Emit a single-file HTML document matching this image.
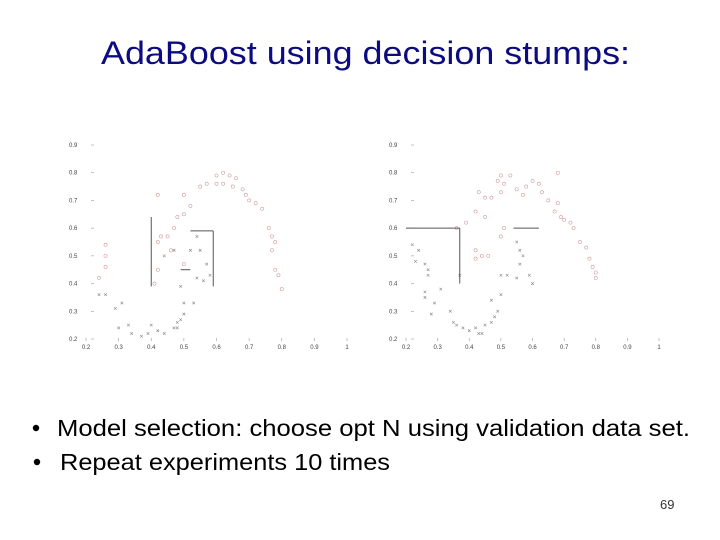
<!DOCTYPE html>
<html><head><meta charset="utf-8">
<style>
html,body{margin:0;padding:0;background:#fff;width:720px;height:540px;overflow:hidden}
svg{display:block}
</style></head>
<body>
<svg id="slide" width="720" height="540" viewBox="0 0 720 540" font-family="Liberation Sans, sans-serif">
<text x="101" y="64" font-size="32" textLength="529" lengthAdjust="spacingAndGlyphs" fill="#0c0c80">AdaBoost using decision stumps:</text>
<g id="plotL"></g>
<g id="plotR"></g>
<circle cx="36" cy="428" r="3.2" fill="#000"/>
<text x="57" y="436" font-size="23" textLength="633" lengthAdjust="spacingAndGlyphs" fill="#000">Model selection: choose opt N using validation data set.</text>
<circle cx="37" cy="462" r="3.2" fill="#000"/>
<text x="60" y="470" font-size="23" textLength="330" lengthAdjust="spacingAndGlyphs" fill="#000">Repeat experiments 10 times</text>
<text x="660" y="509" font-size="13" fill="#333">69</text>
</svg>
<script>
const xTicks=[0.2,0.3,0.4,0.5,0.6,0.7,0.8,0.9,1];
const yTicks=[0.2,0.3,0.4,0.5,0.6,0.7,0.8,0.9];
const leftCircles=[[0.42,0.72],[0.5,0.72],[0.52,0.68],[0.5,0.65],[0.48,0.64],[0.47,0.6],[0.45,0.57],[0.42,0.55],[0.43,0.57],[0.55,0.75],[0.57,0.76],[0.6,0.76],[0.62,0.76],[0.6,0.79],[0.62,0.8],[0.64,0.79],[0.66,0.78],[0.65,0.75],[0.68,0.74],[0.69,0.72],[0.7,0.7],[0.72,0.69],[0.74,0.67],[0.76,0.6],[0.77,0.57],[0.78,0.55],[0.77,0.52],[0.78,0.45],[0.79,0.43],[0.8,0.38],[0.42,0.45],[0.41,0.4],[0.26,0.54],[0.26,0.5],[0.26,0.46],[0.24,0.42],[0.46,0.52],[0.5,0.47]];
const leftCrosses=[[0.24,0.36],[0.26,0.36],[0.29,0.31],[0.31,0.33],[0.3,0.24],[0.33,0.25],[0.34,0.22],[0.37,0.21],[0.39,0.22],[0.4,0.25],[0.42,0.23],[0.44,0.22],[0.47,0.24],[0.48,0.26],[0.49,0.27],[0.5,0.29],[0.5,0.33],[0.48,0.24],[0.53,0.33],[0.47,0.52],[0.52,0.52],[0.55,0.52],[0.57,0.47],[0.56,0.41],[0.54,0.42],[0.49,0.39],[0.54,0.57],[0.44,0.5],[0.58,0.43]];
const leftLines=[[[0.4,0.39],[0.4,0.64]],[[0.52,0.59],[0.59,0.59]],[[0.59,0.59],[0.59,0.39]],[[0.49,0.45],[0.52,0.45]]];
const rightCircles=[[0.43,0.73],[0.45,0.71],[0.47,0.71],[0.49,0.77],[0.5,0.79],[0.51,0.76],[0.5,0.73],[0.53,0.79],[0.55,0.74],[0.57,0.72],[0.58,0.75],[0.6,0.77],[0.62,0.76],[0.63,0.73],[0.65,0.7],[0.68,0.69],[0.67,0.66],[0.69,0.64],[0.7,0.63],[0.72,0.62],[0.73,0.6],[0.75,0.55],[0.77,0.53],[0.78,0.49],[0.79,0.46],[0.8,0.44],[0.8,0.42],[0.68,0.8],[0.42,0.66],[0.45,0.64],[0.39,0.62],[0.36,0.6],[0.5,0.57],[0.42,0.52],[0.44,0.5],[0.42,0.49],[0.46,0.5],[0.51,0.6]];
const rightCrosses=[[0.22,0.54],[0.24,0.52],[0.23,0.48],[0.26,0.47],[0.27,0.45],[0.27,0.43],[0.26,0.37],[0.26,0.35],[0.29,0.33],[0.28,0.29],[0.31,0.38],[0.34,0.3],[0.35,0.26],[0.36,0.25],[0.38,0.24],[0.4,0.23],[0.42,0.24],[0.43,0.22],[0.44,0.22],[0.45,0.25],[0.47,0.26],[0.48,0.28],[0.49,0.3],[0.47,0.34],[0.5,0.36],[0.5,0.43],[0.52,0.43],[0.55,0.42],[0.56,0.47],[0.57,0.5],[0.59,0.43],[0.6,0.4],[0.37,0.43],[0.55,0.55],[0.56,0.52]];
const rightLines=[[[0.2,0.6],[0.37,0.6]],[[0.37,0.6],[0.37,0.4]],[[0.54,0.6],[0.62,0.6]]];

const NS='http://www.w3.org/2000/svg';
function mk(tag,attrs,parent){const e=document.createElementNS(NS,tag);for(const k in attrs)e.setAttribute(k,attrs[k]);parent.appendChild(e);return e;}
function draw(g,x0,x1,circles,crosses,lines){
  const y0=339,y1=145;
  const sx=v=>x0+(v-0.2)/0.8*(x1-x0);
  const sy=v=>y0-(v-0.2)/0.7*(y0-y1);
  xTicks.forEach(t=>{
    const l=mk('line',{x1:sx(t),x2:sx(t),y1:y0+2,y2:y0-1,stroke:'#999','stroke-width':0.6},g);
    
    
    const tx=mk('text',{x:sx(t),y:y0+10,'font-size':6,'text-anchor':'middle',fill:'#444'},g);
    tx.textContent=t===1?'1':t.toFixed(1);
    
    
  });
  yTicks.forEach(t=>{
    const l=mk('line',{x1:x0+5,x2:x0+8,y1:sy(t),y2:sy(t),stroke:'#999','stroke-width':0.6},g);
    
    
    const tx=mk('text',{x:x0-17,y:sy(t)+2,'font-size':6,fill:'#444'},g);
    tx.textContent=t.toFixed(1);
    
    
  });
  circles.forEach(p=>{
    const c=mk('circle',{cx:sx(p[0]),cy:sy(p[1]),r:1.6,fill:'none',stroke:'#d09a9a','stroke-width':0.6},g);
    
    
  });
  crosses.forEach(p=>{
    const x=sx(p[0]),y=sy(p[1]);
    const c=mk('path',{d:`M${x-1.3} ${y-1.3}L${x+1.3} ${y+1.3}M${x-1.3} ${y+1.3}L${x+1.3} ${y-1.3}`,stroke:'#888','stroke-width':0.6},g);
    
    
  });
  lines.forEach(s=>{
    const l=mk('line',{x1:sx(s[0][0]),y1:sy(s[0][1]),x2:sx(s[1][0]),y2:sy(s[1][1]),stroke:'#555','stroke-width':1},g);
    
    
  });
}
draw(document.getElementById('plotL'),86,347,leftCircles,leftCrosses,leftLines);
draw(document.getElementById('plotR'),406,659,rightCircles,rightCrosses,rightLines);
</script>
</body></html>
